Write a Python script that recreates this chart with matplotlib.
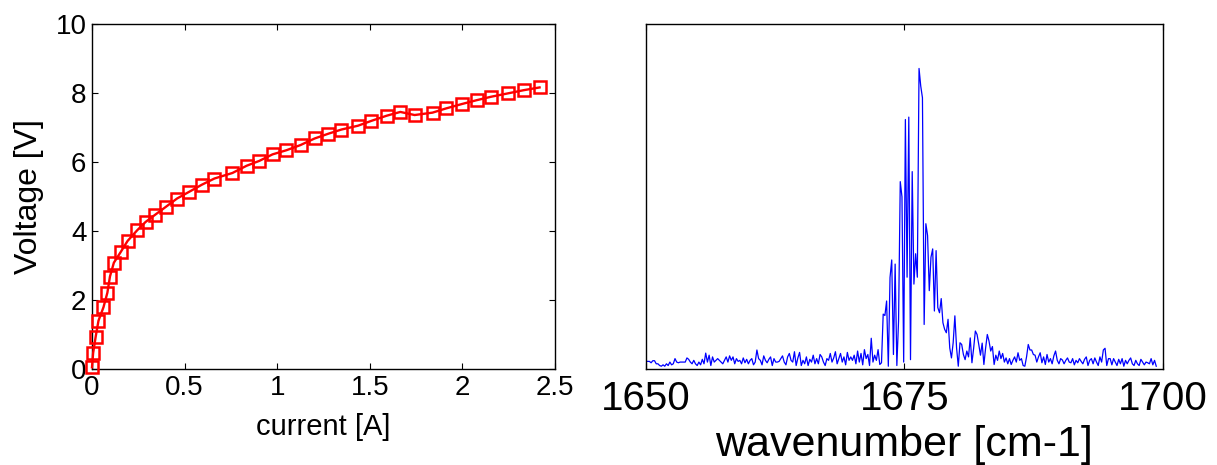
import matplotlib
matplotlib.use("Agg")
import matplotlib.pyplot as plt
import numpy as np

plt.rcParams["font.family"] = ["Liberation Sans", "DejaVu Sans"]

# I-V curve
current_a = [0.0, 0.006, 0.02, 0.035, 0.062, 0.083, 0.097, 0.118, 0.155, 0.192,
             0.244, 0.289, 0.341, 0.399, 0.459, 0.523, 0.593, 0.661, 0.758, 0.835,
             0.903, 0.975, 1.050, 1.126, 1.202, 1.277, 1.347, 1.436, 1.508, 1.591,
             1.665, 1.742, 1.839, 1.911, 1.998, 2.077, 2.155, 2.248, 2.331, 2.417]
voltage_v = [0.05, 0.46, 0.94, 1.40, 1.79, 2.21, 2.68, 3.08, 3.39, 3.71,
             4.02, 4.26, 4.47, 4.70, 4.94, 5.13, 5.34, 5.52, 5.68, 5.89,
             6.03, 6.22, 6.34, 6.49, 6.68, 6.82, 6.94, 7.05, 7.19, 7.34,
             7.45, 7.36, 7.43, 7.55, 7.68, 7.79, 7.89, 7.99, 8.08, 8.16]

# spectrum, intensity in % of full scale
wn_start, wn_end = 1650.0, 1699.35
intensity = [
    2.2, 2.2, 2.2, 1.8, 2.4, 2.4, 1.5, 1.5, 1.0, 0.8, 1.2, 0.8, 1.5, 1.0, 2.0, 1.2, 1.5, 3.0, 2.0, 1.8,
    2.0, 2.0, 2.0, 2.0, 3.2, 2.8, 2.0, 1.5, 2.5, 1.5, 1.0, 2.0, 1.2, 2.8, 1.5, 4.6, 2.0, 4.0, 1.0, 3.5,
    2.0, 2.5, 3.0, 2.5, 2.0, 1.5, 2.5, 3.5, 2.0, 3.8, 2.5, 3.5, 1.5, 3.0, 2.2, 2.5, 1.5, 3.2, 1.8, 2.8,
    1.5, 2.5, 3.0, 1.2, 2.0, 5.5, 3.0, 2.5, 1.2, 3.8, 2.5, 1.8, 2.8, 3.5, 1.0, 3.0, 2.0, 2.0, 2.2, 3.0,
    3.8, 2.0, 1.2, 3.5, 4.5, 2.5, 2.0, 5.0, 1.0, 3.2, 4.8, 1.0, 2.5, 1.5, 3.5, 1.0, 2.8, 2.0, 4.0, 1.5,
    3.0, 1.5, 4.2, 3.5, 2.0, 1.0, 3.0, 2.5, 4.5, 2.0, 3.2, 5.0, 1.5, 3.0, 4.5, 2.0, 3.5, 1.2, 4.8, 2.5, 3.5,
    2.5, 4.0, 1.5, 5.2, 2.0, 4.5, 1.2, 5.6, 3.0, 4.2, 1.0, 8.9, 2.0, 4.0, 2.5, 5.6, 1.3, 1.8, 15.9, 15.5,
    19.7, 0.8, 26.5, 31.6, 4.2, 30.4, 1.0, 13.9, 54.3, 49.9, 2.0, 72.3, 26.6, 73.0, 2.7, 57.2, 24.6, 33.4, 26.6, 87.1,
    82.0, 78.6, 12.9, 42.1, 38.7, 22.7, 32.4, 34.8, 16.8, 34.3, 17.8, 16.3, 20.4, 13.4, 11.5, 10.5, 14.4, 6.1, 3.2, 7.6,
    15.4, 6.1, 0.8, 7.6, 7.1, 4.2, 2.7, 5.2, 3.5, 9.0, 1.8, 6.0, 11.0, 10.0, 7.1, 4.0, 7.5, 1.3, 6.0, 10.0,
    8.1, 5.2, 6.5, 1.3, 4.0, 2.5, 5.2, 3.0, 4.5, 2.0, 3.2, 1.5, 3.0, 1.3, 2.5, 3.5, 2.0, 4.7, 2.5, 3.0,
    1.0, 0.8, 3.5, 7.1, 5.5, 5.5, 4.2, 4.0, 2.0, 3.5, 4.7, 1.8, 3.5, 1.3, 4.2, 2.0, 3.0, 1.5, 3.8, 5.2,
    2.5, 1.5, 3.0, 2.6, 1.5, 2.5, 3.2, 2.0, 1.8, 3.0, 1.2, 2.5, 1.8, 3.0, 2.2, 1.5, 2.8, 3.5, 1.0, 2.5,
    3.0, 1.5, 3.2, 2.0, 1.0, 3.5, 2.0, 5.5, 6.0, 1.0, 3.0, 3.0, 1.2, 3.0, 2.0, 1.0, 2.8, 1.5, 3.0, 0.8,
    2.5, 1.5, 2.5, 3.2, 1.5, 1.0, 2.5, 1.5, 1.0, 2.8, 2.0, 1.2, 2.0, 1.8, 1.5, 3.0, 1.2, 2.5, 0.8,
]
wavenumber = np.linspace(wn_start, wn_end, len(intensity))

fig = plt.figure(figsize=(12.17, 4.65), dpi=100)
ax1 = fig.add_axes([0.0756, 0.2065, 0.3804, 0.742])
ax2 = fig.add_axes([0.5308, 0.2065, 0.4248, 0.742])

# left: voltage vs current
ax1.plot(current_a, voltage_v, color="red", lw=1.7, marker="s", ms=8.5,
         mfc="none", mec="red", mew=1.8, clip_on=False, zorder=3)
ax1.set_xlim(0, 2.5)
ax1.set_ylim(0, 10)
ax1.set_xticks([0, 0.5, 1, 1.5, 2, 2.5])
ax1.set_xticklabels(["0", "0.5", "1", "1.5", "2", "2.5"])
ax1.set_yticks([0, 2, 4, 6, 8, 10])
ax1.tick_params(direction="in", length=4, width=0.8, top=True, right=True,
                labelsize=20, pad=4)
ax1.set_xlabel("current [A]", fontsize=21, labelpad=9)
ax1.set_ylabel("Voltage [V]", fontsize=23, labelpad=8)

# right: spectrum
ax2.plot(wavenumber, intensity, color="blue", lw=0.9)
ax2.set_xlim(1650, 1700)
ax2.set_ylim(0, 100)
ax2.set_xticks([1650, 1675, 1700])
ax2.set_yticks([])
ax2.tick_params(axis="x", direction="in", length=4, width=0.8, top=True,
                labelsize=29, pad=8)
ax2.set_xlabel("wavenumber [cm-1]", fontsize=31, labelpad=5)

for ax in (ax1, ax2):
    for sp in ax.spines.values():
        sp.set_linewidth(1.0)

fig.savefig("out.png", dpi=100)
